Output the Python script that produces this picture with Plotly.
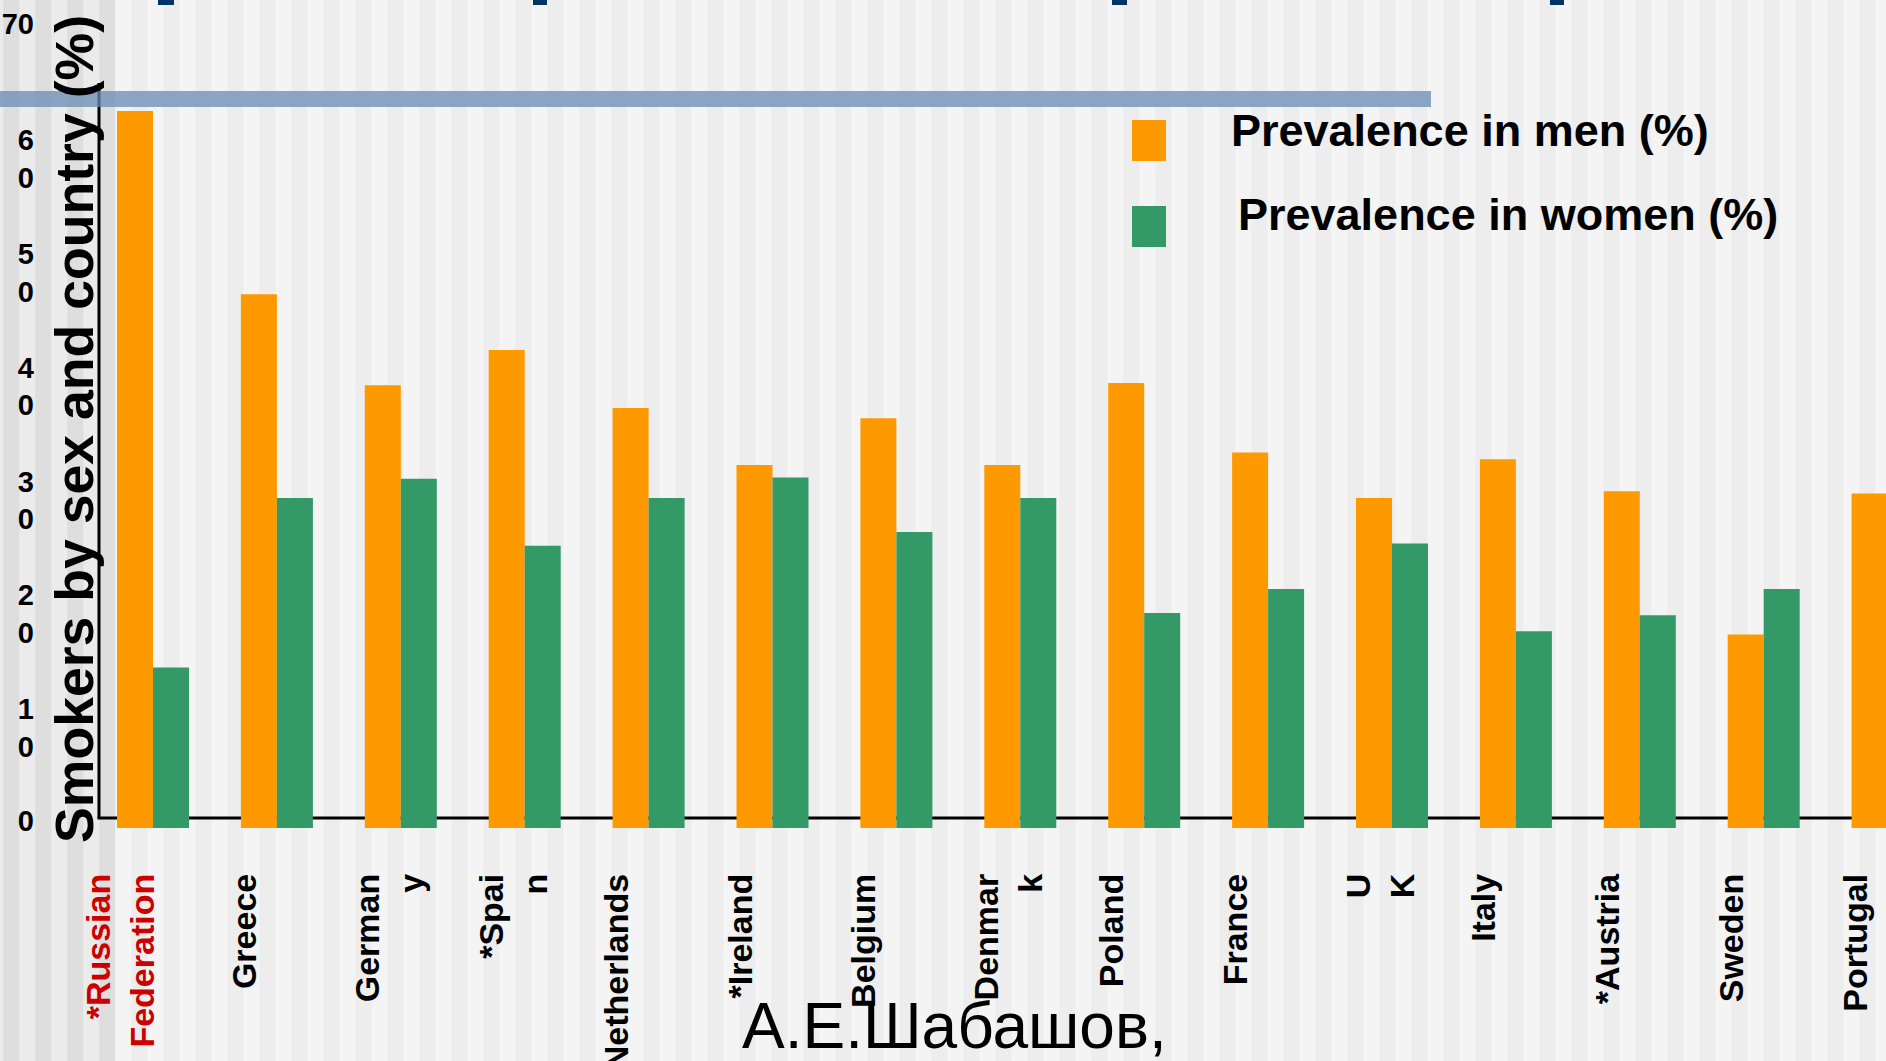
import plotly.graph_objects as go

# ---------------- data ----------------
countries = ["*Russian<br>Federation", "Greece", "German<br>y", "*Spai<br>n", "Netherlands",
             "*Ireland", "Belgium", "Denmar<br>k", "Poland", "France", "U<br>K", "Italy",
             "*Austria", "Sweden", "Portugal"]
men = [63.0, 46.9, 38.9, 42.0, 36.9, 31.9, 36.0, 31.9, 39.1, 33.0, 29.0, 32.4, 29.6, 17.0, 29.4]
women = [14.1, 29.0, 30.7, 24.8, 29.0, 30.8, 26.0, 29.0, 18.9, 21.0, 25.0, 17.3, 18.7, 21.0, 11.0]
highlight = ["*Russian<br>Federation"]
y_tick_values = [0, 10, 20, 30, 40, 50, 60, 70]
y_tick_labels = ["0", "1<br>0", "2<br>0", "3<br>0", "4<br>0", "5<br>0", "6<br>0", "70"]
series_names = ["Prevalence in men (%)", "Prevalence in women (%)"]
y_title = "Smokers by sex and country (%)"
author = "А.Е.Шабашов,"

# ---------------- layout constants (pixels) ----------------
W, H = 1886, 1061
FONT = "Liberation Sans, Arial, sans-serif"
ORANGE, GREEN = "#FF9900", "#339966"
AX_LEFT = 99          # y axis line x
AX_LINE_Y = 818       # drawn x axis line y
PLOT_BOTTOM = 830     # plot area bottom
PLOT_TOP = 20
BASE_PX = 828         # pixel where value 0 sits
PX_PER_UNIT = 11.38
CAT0_PX = 153         # centre of first group
CAT_STEP = 123.9      # pixels between groups


def px(x):
    return x / W


def py(y):
    return 1 - y / H


y_range = [(BASE_PX - PLOT_BOTTOM) / PX_PER_UNIT, (BASE_PX - PLOT_TOP) / PX_PER_UNIT]
x_min = -(CAT0_PX - AX_LEFT) / CAT_STEP
x_range = [x_min, x_min + (W - AX_LEFT) / CAT_STEP]

idx = list(range(len(countries)))

# tick text (highlight colour for Russia)
ticktext = []
tickvals = []
for i, c in zip(idx, countries):
    if c in highlight:
        t = "<br>".join("<span style='color:#CC0000'>%s</span>" % p for p in c.split("<br>"))
        shift = -32 / CAT_STEP
    else:
        t = c
        shift = (-11 / CAT_STEP) if "<br>" in c else (-32 / CAT_STEP)
    ticktext.append(t)
    tickvals.append(i + shift)

ytickvals = [v + (-1.2 if "<br>" in t else 0.65) for v, t in zip(y_tick_values, y_tick_labels)]

fig = go.Figure()
fig.add_trace(go.Bar(x=idx, y=men, name=series_names[0], marker=dict(color=ORANGE, line=dict(width=0)),
                     showlegend=False))
fig.add_trace(go.Bar(x=idx, y=women, name=series_names[1], marker=dict(color=GREEN, line=dict(width=0)),
                     showlegend=False))

shapes = []
# background stripes
shapes.append(dict(type="rect", xref="paper", yref="paper", x0=0, x1=px(115), y0=0, y1=1,
                   fillcolor="#EBEBEB", line=dict(width=0), layer="below"))
x0 = 3.3
while x0 < W:
    col = "#DEDEDE" if x0 < 115 else "#EDEDED"
    shapes.append(dict(type="rect", xref="paper", yref="paper", x0=px(x0), x1=px(min(x0 + 16, W)),
                       y0=0, y1=1, fillcolor=col, line=dict(width=0), layer="below"))
    x0 += 32
# x axis line (behind bars)
shapes.append(dict(type="line", xref="paper", yref="paper", x0=px(AX_LEFT - 1.5), x1=1,
                   y0=py(AX_LINE_Y), y1=py(AX_LINE_Y), line=dict(color="black", width=3), layer="below"))
# y axis line
shapes.append(dict(type="line", xref="paper", yref="paper", x0=px(AX_LEFT), x1=px(AX_LEFT),
                   y0=py(AX_LINE_Y), y1=py(83), line=dict(color="black", width=3), layer="above"))
# blue band
shapes.append(dict(type="rect", xref="paper", yref="paper", x0=0, x1=px(1431), y0=py(107), y1=py(91),
                   fillcolor="rgba(104,140,178,0.75)", line=dict(width=0), layer="above"))
# title descenders (cut-off title)
for a, b in [(158, 174), (533, 547), (1112, 1127), (1550, 1564)]:
    shapes.append(dict(type="rect", xref="paper", yref="paper", x0=px(a), x1=px(b), y0=py(5), y1=1,
                       fillcolor="#003366", line=dict(width=0), layer="above"))
# legend swatches
shapes.append(dict(type="rect", xref="paper", yref="paper", x0=px(1132), x1=px(1166), y0=py(161), y1=py(120),
                   fillcolor=ORANGE, line=dict(width=0)))
shapes.append(dict(type="rect", xref="paper", yref="paper", x0=px(1132), x1=px(1166), y0=py(247), y1=py(206),
                   fillcolor=GREEN, line=dict(width=0)))

annotations = [
    dict(text="<b>%s</b>" % series_names[0], xref="paper", yref="paper", x=px(1229), y=py(130),
         xanchor="left", yanchor="middle", showarrow=False, font=dict(family=FONT, size=45, color="black")),
    dict(text="<b>%s</b>" % series_names[1], xref="paper", yref="paper", x=px(1236), y=py(215),
         xanchor="left", yanchor="middle", showarrow=False, font=dict(family=FONT, size=45, color="black")),
    dict(text="<b>%s</b>" % y_title, xref="paper", yref="paper", x=px(74), y=py(429), xanchor="center",
         yanchor="middle", textangle=-90, showarrow=False, font=dict(family=FONT, size=53.6, color="black")),
    dict(text=author, xref="paper", yref="paper", x=px(740), y=py(1026), xanchor="left", yanchor="middle",
         showarrow=False, font=dict(family=FONT, size=64, color="black")),
]

fig.update_layout(
    width=W, height=H, autosize=False,
    margin=dict(l=0, r=0, t=0, b=0, pad=0, autoexpand=False),
    paper_bgcolor="#F4F4F4", plot_bgcolor="rgba(0,0,0,0)",
    barmode="group", bargap=1 - 72 / CAT_STEP, bargroupgap=0,
    font=dict(family=FONT, color="black"),
    shapes=shapes, annotations=annotations, showlegend=False,
    xaxis=dict(domain=[px(AX_LEFT), 1], range=x_range, tickmode="array", tickvals=tickvals,
               ticktext=["<b>%s</b>" % t for t in ticktext], tickangle=-90, ticks="", showgrid=False,
               zeroline=False, showline=False,
               tickfont=dict(family=FONT, size=34, color="black"), ticklabelstandoff=36, automargin=False),
    yaxis=dict(domain=[py(PLOT_BOTTOM), py(PLOT_TOP)], range=y_range, tickmode="array", tickvals=ytickvals,
               ticktext=["<b>%s</b>" % t for t in y_tick_labels], ticks="", showgrid=False, zeroline=False,
               showline=False, tickfont=dict(family=FONT, size=29, color="black"), ticklabelstandoff=64,
               automargin=False),
)

fig.write_html("out.html", config={"displayModeBar": False},
               post_script="document.body.style.margin='0';document.body.style.overflow='hidden';")
